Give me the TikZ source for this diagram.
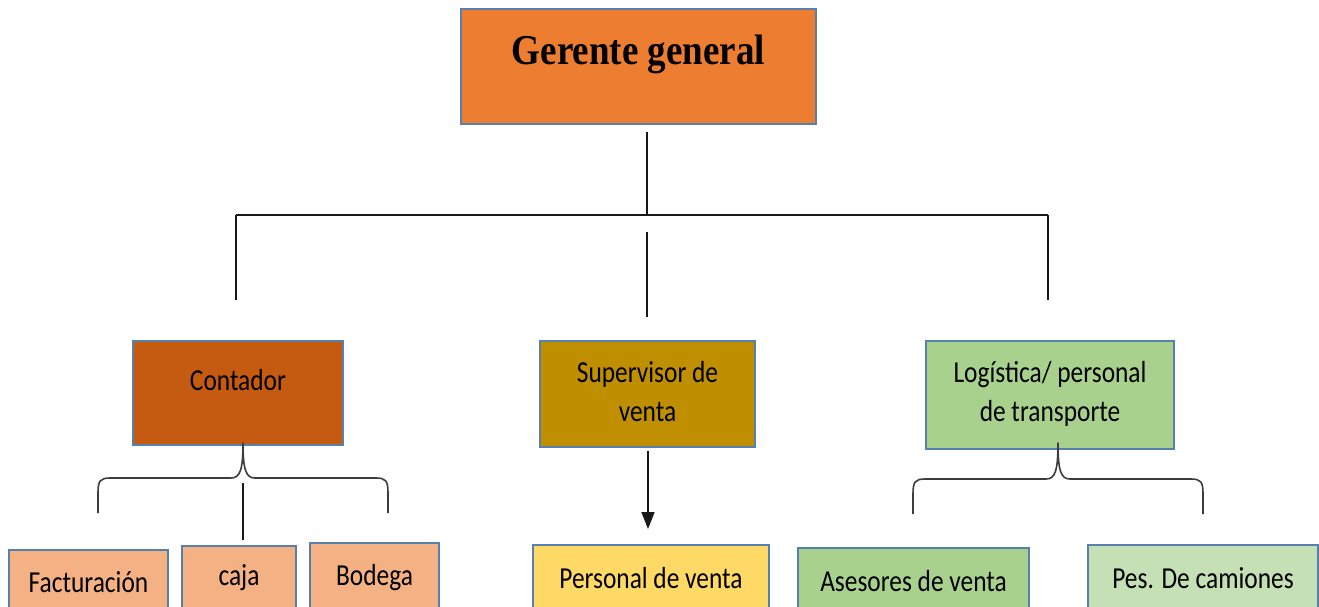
\documentclass[tikz,border=0pt]{standalone}
\usepackage{fontspec}
\setmainfont{Carlito}
\newfontfamily\gerfont{Liberation Serif}
\usepackage{graphicx}
\usetikzlibrary{arrows.meta}
\definecolor{cGer}{HTML}{ED7D31}
\definecolor{cCon}{HTML}{C55A11}
\definecolor{cSup}{HTML}{BF8F00}
\definecolor{cLog}{HTML}{A9D18E}
\definecolor{cSub}{HTML}{F4B183}
\definecolor{cPer}{HTML}{FFD966}
\definecolor{cAse}{HTML}{A9D18E}
\definecolor{cPes}{HTML}{C5E0B4}
\definecolor{cBord}{RGB}{88,128,175}
\definecolor{cLine}{RGB}{25,25,25}
\newcommand{\vstr}[1]{\scalebox{1}[1.2]{#1}}
\newcommand{\twol}[2]{\vstr{\begin{tabular}[t]{@{}c@{}}#1\\#2\end{tabular}}}
\tikzset{
  box/.style={rectangle, draw=cBord, line width=1.1pt, inner sep=0pt},
  txt/.style={anchor=base, inner sep=0pt, text=black, font=\fontsize{25.4}{33}\selectfont},
  conn/.style={draw=cLine, line width=1.6pt},
  bracepath/.style={draw=cLine!85, line width=1.6pt, line join=round}
}
\begin{document}
\begin{tikzpicture}[x=1pt,y=-1pt]
\useasboundingbox (0,0) rectangle (1319,607);
\clip (0,0) rectangle (1319,607);
\fill[white] (0,0) rectangle (1319,607);
% top box
\node[box, fill=cGer, minimum width=355, minimum height=115] (ger) at (638.5,66.5) {};
\node[anchor=base, inner sep=0pt, font=\gerfont\bfseries\fontsize{37}{40}\selectfont] (gert) at (638.5,65) {\scalebox{1}[1.15]{Gerente general}};
% second level
\node[box, fill=cCon, minimum width=210, minimum height=104] (con) at (238,393) {};
\node[txt] (cont) at (238,390) {\vstr{Contador}};
\node[box, fill=cSup, minimum width=215, minimum height=106] (sup) at (647.5,394) {};
\node[txt] (supt) at (647.5,382) {\twol{Supervisor de}{venta}};
\node[box, fill=cLog, minimum width=248, minimum height=108] (log) at (1050,395) {};
\node[txt] (logt) at (1050,382) {\twol{Logística/ personal}{de transporte}};
% third level
\node[box, fill=cSub, minimum width=159, minimum height=90] (fac) at (88.5,595) {};
\node[txt] (fact) at (88.5,592) {\vstr{Facturación}};
\node[box, fill=cSub, minimum width=114, minimum height=94] (caj) at (239,593) {};
\node[txt] (cajt) at (239,585) {\vstr{caja}};
\node[box, fill=cSub, minimum width=129, minimum height=97] (bod) at (374.5,591.5) {};
\node[txt] (bodt) at (374.5,585) {\vstr{Bodega}};
\node[box, fill=cPer, minimum width=236, minimum height=95] (per) at (651,592.5) {};
\node[txt] (pert) at (651,588) {\vstr{Personal de venta}};
\node[box, fill=cAse, minimum width=231, minimum height=92] (ase) at (913.5,594) {};
\node[txt] (aset) at (913.5,591) {\vstr{Asesores de venta}};
\node[box, fill=cPes, minimum width=230, minimum height=95] (pes) at (1203,592.5) {};
\node[txt] (pest) at (1203,588) {\vstr{Pes. De camiones}};
% connector coordinates
\coordinate (g1) at (647,132);
\coordinate (hj) at (647,215);
\coordinate (hl) at (236,215);
\coordinate (hr) at (1048,215);
\coordinate (cl) at (236,300);
\coordinate (cr) at (1048,300);
\coordinate (m1) at (647,232);
\coordinate (m2) at (647,317);
\coordinate (a1) at (648,451);
\coordinate (a2) at (648,529);
\coordinate (k1) at (243,483);
\coordinate (k2) at (243,540);
% connectors
\draw[conn] (g1) -- (hj);
\draw[conn] (hl) -- (hr);
\draw[conn] (hl) -- (cl);
\draw[conn] (hr) -- (cr);
\draw[conn] (m1) -- (m2);
\draw[conn, -{Triangle[length=17pt,width=13pt]}] (a1) -- (a2);
\draw[conn] (k1) -- (k2);
% braces
\draw[bracepath] (98,513) -- (98,493) .. controls (98,481) and (100,478) .. (110,478) -- (231,478) .. controls (240,478) and (243,470) .. (243,443) .. controls (243,470) and (246,478) .. (255,478) -- (376,478) .. controls (386,478) and (388,481) .. (388,493) -- (388,513);
\draw[bracepath] (913,514) -- (913,494) .. controls (913,482) and (915,479) .. (925,479) -- (1046,479) .. controls (1055,479) and (1058,471) .. (1058,443) .. controls (1058,471) and (1061,479) .. (1070,479) -- (1191,479) .. controls (1201,479) and (1203,482) .. (1203,494) -- (1203,514);
\end{tikzpicture}
\end{document}
